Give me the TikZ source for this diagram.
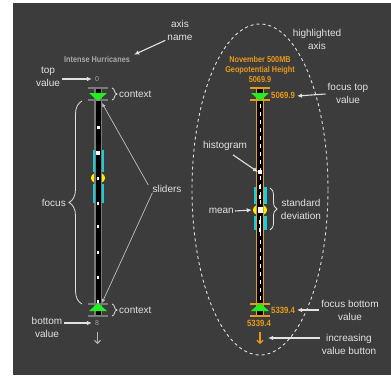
\documentclass[tikz,border=0pt]{standalone}
\usepackage{fontspec}
\setmainfont{Liberation Sans}
\newfontfamily\nfb[FakeStretch=0.86]{Liberation Sans}
\usetikzlibrary{arrows.meta,decorations.pathreplacing,shapes.geometric}
\definecolor{bg}{HTML}{3C3C3C}
\definecolor{lab}{HTML}{E2E2E2}
\definecolor{org}{HTML}{E89B1A}
\definecolor{grn}{HTML}{22EE22}
\definecolor{cyn}{HTML}{19CED6}
\definecolor{yel}{HTML}{FFEE00}
\definecolor{axg}{HTML}{7A7A7A}
\definecolor{ttl}{HTML}{A8A8A8}
\begin{document}
\begin{tikzpicture}[x=1pt,y=-1pt,
  lbl/.style={text=lab,font=\fontsize{10}{13}\selectfont,inner sep=0pt,align=center},
  arr/.style={draw=lab,line width=1.1pt,-{Latex[length=5pt,width=4.5pt]}},
  sldr/.style={draw=lab!85!black,line width=0.7pt,-{Latex[length=4pt,width=3.5pt]}},
  brc/.style={draw=lab,line width=0.8pt,decorate,decoration={brace,amplitude=#1}},
  smallt/.style={font=\nfb\fontsize{8.5}{10}\selectfont\bfseries,inner sep=0pt,align=center},
  numt/.style={font=\nfb\fontsize{9}{10}\selectfont\bfseries,inner sep=0pt,text=org},
  meanmark/.style={ellipse,fill=yel,minimum width=14pt,minimum height=11pt,inner sep=0pt},
  cbar/.style={line width=2pt},
  hist/.style={fill=white}]
\useasboundingbox (0,0) rectangle (391,375);
\fill[white] (0,0) rectangle (391,375);
\fill[bg] (13,3) rectangle (391,375);

% ---------- left axis ----------
\node[meanmark] (meanL) at (98,178) {};
\fill[axg] (94,88) rectangle (102,316);
\fill[black] (95.5,88) rectangle (100.5,316);
\foreach \yy in {88,100,304,316} \draw[axg,cbar] (88,\yy) -- (108,\yy);
\fill[grn] (89,93) -- (107,93) -- (98,101) -- cycle;
\fill[grn] (89,311) -- (107,311) -- (98,303) -- cycle;
\foreach \yy/\ww/\hh in {127/3/3,153/4/4,178/2/3,203/1.5/3,226/1.5/3,252/1.5/3,277/1.5/3,301/1.5/3}
  \fill[white] (98-\ww/2,\yy-\hh/2) rectangle (98+\ww/2,\yy+\hh/2);
\fill[cyn] (92.5,150) rectangle (94.5,172);
\fill[cyn] (101.5,150) rectangle (103.5,172);
\fill[cyn] (92.5,184) rectangle (94.5,203);
\fill[cyn] (101.5,184) rectangle (103.5,203);
\coordinate (topslider) at (102,103);
\coordinate (botslider) at (102,303);

\node[text=ttl,smallt] (ltitle) at (97,59) {Intense Hurricanes};
\node[text=ttl,font=\fontsize{7}{8}\selectfont,inner sep=0pt] (ltop) at (97,79) {0};
\node[text=ttl,font=\fontsize{7}{8}\selectfont,inner sep=0pt] (lbot) at (97,323) {8};
\coordinate (ldownA) at (97.5,332);
\coordinate (ldownB) at (97.5,344);
\draw[lab!80!black,line width=1pt,-{Straight Barb[length=3pt,width=6pt]}] (ldownA) -- (ldownB);

% labels left
\node[lbl] (axisname) at (180,30) {axis\\name};
\node[lbl] (topval) at (48,77) {top\\value};
\node[lbl,anchor=west] (ctx1) at (119,94) {context};
\node[lbl,anchor=east] (focus) at (66,203) {focus};
\node[lbl] (sliders) at (167,189) {sliders};
\node[lbl,anchor=west] (ctx2) at (119,310) {context};
\node[lbl] (botval) at (47,327.5) {bottom\\value};

\draw[arr] ([xshift=-2pt]axisname.south west) -- ([xshift=4pt,yshift=1pt]ltitle.north east);
\draw[arr] (topval.east |- ltop.west) ++(2,0) -- ([xshift=-3pt]ltop.west);
\draw[arr] (botval.east |- lbot.west) ++(2,0) -- ([xshift=-3pt]lbot.west);
\draw[sldr] ([xshift=-4pt]sliders.north west) -- (topslider);
\draw[sldr] ([xshift=0pt]sliders.south west) -- (botslider);
\draw[brc=5pt] (112,88) -- (112,100);
\draw[brc=5pt] (112,304) -- (112,316);
\draw[brc=13pt] (82,304) -- (82,101);

% ---------- right axis ----------
\draw[white!88!black,line width=0.9pt,dash pattern=on 3pt off 3pt] (260,189.5) ellipse [x radius=68pt,y radius=165.5pt];
\node[meanmark] (meanR) at (260,210) {};
\fill[org] (256,88) rectangle (264,316);
\fill[black] (257.4,88) rectangle (262.6,316);
\draw[white,line width=1pt,dash pattern=on 4pt off 4pt] (260,104) -- (260,302);
\foreach \yy in {88,100,304,316} \draw[org,cbar] (250,\yy) -- (270,\yy);
\fill[grn] (251,93) -- (269,93) -- (260,101) -- cycle;
\fill[grn] (251,311) -- (269,311) -- (260,303) -- cycle;
\foreach \yy/\ww/\hh in {172/4/4,187/2/4,197/2/4,210/5/6,222/2/4,230/2/4}
  \fill[white] (260-\ww/2,\yy-\hh/2) rectangle (260+\ww/2,\yy+\hh/2);
\fill[cyn] (253.5,187) rectangle (256,204);
\fill[cyn] (264,187) rectangle (266.5,204);
\fill[cyn] (253.5,216) rectangle (256,230);
\fill[cyn] (264,216) rectangle (266.5,230);
\coordinate (histbar) at (258,172);
\coordinate (incbtn) at (260,338);

\node[text=org,smallt] (rtitle) at (260,69) {November 500MB\\Geopotential Height\\5069.9};
\node[numt,anchor=west] (ftv) at (271,95) {5069.9};
\node[numt,anchor=west] (fbv) at (271,310) {5339.4};
\node[numt] (rbot) at (259,323) {5339.4};
\draw[org,line width=1.2pt,-{Straight Barb[length=3pt,width=6pt]}] (260,332) -- (260,344);

% labels right
\node[lbl] (highl) at (317,39.5) {highlighted\\axis};
\node[lbl] (focustop) at (348,93.5) {focus top\\value};
\node[lbl] (histo) at (225,146) {histogram};
\node[lbl,anchor=east] (mean) at (234,211) {mean};
\node[lbl] (std) at (301,209.5) {standard\\deviation};
\node[lbl] (focusbot) at (350,310) {focus bottom\\value};
\node[lbl] (incr) at (349,344.5) {increasing\\value button};

\draw[arr] (focustop.west |- ftv.east) ++(-2,-1) -- ([xshift=2pt,yshift=-1pt]ftv.east);
\draw[arr] (focusbot.west |- fbv.east) ++(-2,0) -- ([xshift=2pt]fbv.east);
\draw[arr] (incr.west |- incbtn) ++(-2,0) -- ([xshift=8pt]incbtn);
\draw[arr] ([xshift=8pt,yshift=-4pt]histo.south) -- (histbar);
\draw[arr] ([xshift=1pt]mean.east) -- ([xshift=-1pt]meanR.west);
\draw[brc=7pt] (270,188) -- (270,230);
\end{tikzpicture}
\end{document}
